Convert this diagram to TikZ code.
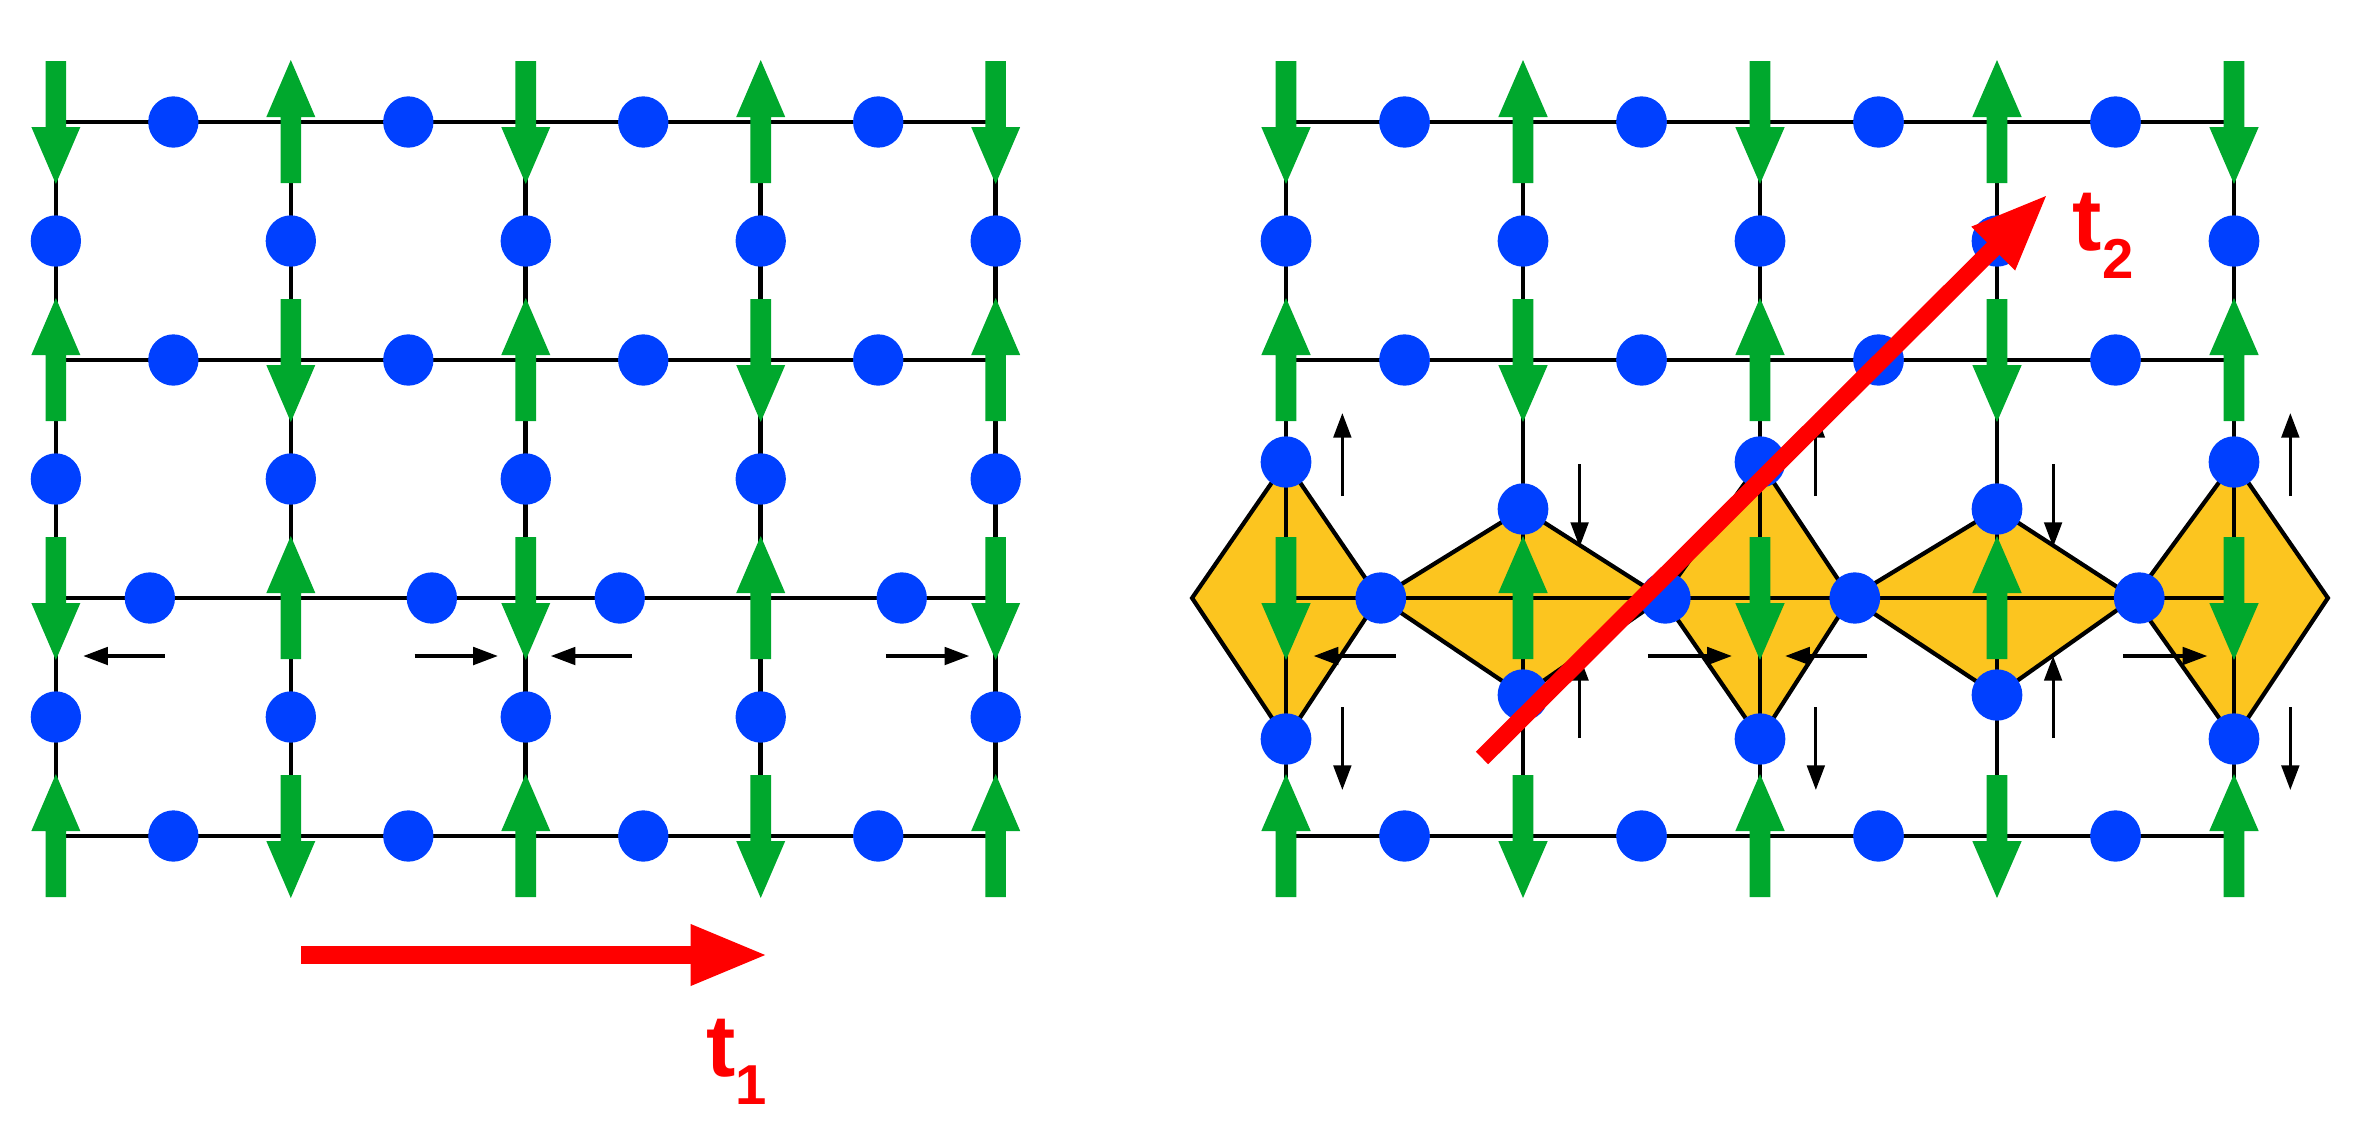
\documentclass[tikz,border=0pt]{standalone}
\usepackage{fontspec}
\setmainfont{Liberation Sans}
\usetikzlibrary{arrows.meta}
\definecolor{gr}{RGB}{0,168,45}
\definecolor{bl}{RGB}{0,64,255}
\definecolor{yl}{RGB}{252,197,31}
\tikzset{
  gridline/.style={black,line width=1.3pt},
  dotf/.style={fill=bl},
  octa/.style={fill=yl,draw=black,line width=1.2pt,line join=miter},
  small/.style={black,line width=0.9pt,-{Triangle[length=7pt,width=5pt]}},
  trans/.style={red,line width=5pt,-{Triangle[length=22pt,width=16pt]}},
  lab/.style={red,font=\fontsize{25}{25}\selectfont\bfseries,inner sep=0pt,anchor=base west}
}
\newcommand\gar[3]{\fill[gr] ({#1-10.5},{#2+#3*61}) -- ({#1+10.5},{#2+#3*61}) -- ({#1+10.5},{#2-#3*5}) -- ({#1+25},{#2-#3*5}) -- (#1,{#2-#3*62}) -- ({#1-25},{#2-#3*5}) -- ({#1-10.5},{#2-#3*5}) -- cycle;}
\newcommand\panelbase[1]{%
  \foreach \r in {0,...,3}
    \draw[gridline] ({#1+57},{122+238*\r}) -- ({#1+1016},{122+238*\r});
  \foreach \c in {0,...,4}
    \draw[gridline] ({#1+57+239.75*\c},122) -- ({#1+57+239.75*\c},836);
  \foreach \c in {0,...,4}
    \foreach \r in {0,...,3} {
      \pgfmathsetmacro\dd{int(2*mod(\c+\r,2)-1)}
      \gar{#1+57+239.75*\c}{122+238*\r}{\dd}
    }
  \foreach \c in {0,...,3} {
    \foreach \r in {0,1,3}
      \fill[dotf] ({#1+176.9+239.75*\c},{122+238*\r}) circle (7.3pt);
    \pgfmathsetmacro\sh{int(48*mod(\c,2)-24)}
    \fill[dotf] ({#1+176.9+239.75*\c+\sh},598) circle (7.3pt);
  }
  \draw[small] ({#1+168},656) -- ({#1+85},656);
  \draw[small] ({#1+423},656) -- ({#1+508},656);
  \draw[small] ({#1+645},656) -- ({#1+562},656);
  \draw[small] ({#1+904},656) -- ({#1+989},656);
}
\begin{document}
\begin{tikzpicture}[x=0.01cm,y=-0.01cm]
\useasboundingbox (0,0) rectangle (2357,1130);
% left panel
\begin{scope}[xscale=0.98]
\panelbase{0}
\foreach \c in {0,...,4}
  \foreach \y in {241,479,717}
    \fill[dotf] ({57+239.75*\c},\y) circle (7.3pt);
\end{scope}
% right panel
\begin{scope}[xshift=0.148cm,xscale=0.9885]
\foreach \a/\b/\c/\d/\e in {1191/1286/1380/462/739, 1380/1525.75/1667/509/695, 1667/1765.5/1857/462/739, 1857/2005.25/2144/509/695, 2144/2245/2340/462/739}
  \filldraw[octa] (\a,598) -- (\b,\d) -- (\c,598) -- (\b,\e) -- cycle;
\panelbase{1229}
\foreach \c/\ya/\yb in {0/462/739,1/509/695,2/462/739,3/509/695,4/462/739} {
  \fill[dotf] ({1286+239.75*\c},241) circle (7.3pt);
  \fill[dotf] ({1286+239.75*\c},\ya) circle (7.3pt);
  \fill[dotf] ({1286+239.75*\c},\yb) circle (7.3pt);
}
\foreach \x in {1343,1822,2302} {
  \draw[small] (\x,496) -- (\x,413);
  \draw[small] (\x,707) -- (\x,790);
}
\foreach \x in {1583,2062} {
  \draw[small] (\x,464) -- (\x,547);
  \draw[small] (\x,738) -- (\x,656);
}
\end{scope}
% translation vectors
\coordinate (t1a) at (301,955);
\coordinate (t1b) at (768,955);
\draw[trans] (t1a) -- (t1b);
\node[lab] (t1) at (706,1076) {t\raisebox{-8pt}{\fontsize{16}{16}\selectfont 1}};
\coordinate (t2a) at (1482,758);
\coordinate (t2b) at (2048,194);
\draw[trans] (t2a) -- (t2b);
\node[lab] (t2) at (2072,250) {t\raisebox{-8pt}{\fontsize{16}{16}\selectfont 2}};
\end{tikzpicture}
\end{document}
